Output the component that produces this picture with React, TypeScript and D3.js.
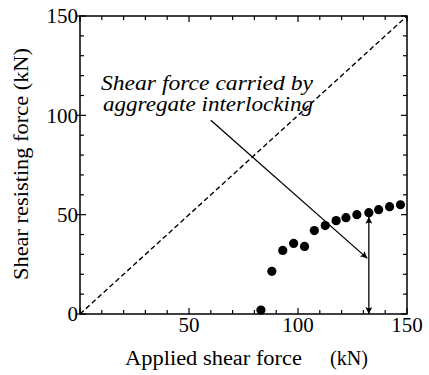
import React from 'react';
import { scaleLinear, range, line } from 'd3';

// applied shear force (kN) and measured shear resisting force (kN)
const appliedShear = [83, 88, 93, 98, 103, 107.5, 112.5, 117.5, 122, 127, 132.5, 137, 142, 147];
const resistingShear = [2, 21.5, 32, 35.5, 34, 42, 44.5, 47, 48.5, 50, 51, 52.5, 54, 55];

const xTickLabels = [50, 100, 150];
const yTickLabels = [0, 50, 100, 150];
const annotationLines = ['Shear force carried by', 'aggregate interlocking'];

const W = 429;
const H = 375;
const serif = 'Liberation Serif, Tinos, DejaVu Serif, serif';

const App = () => {
  const x = scaleLinear().domain([0, 150]).range([80, 407]);
  const y = scaleLinear().domain([0, 150]).range([314, 16]);
  const minor = range(0, 151, 10);
  const major = [0, 50, 100, 150];
  const diag = line<number>()
    .x((d) => x(d))
    .y((d) => y(d));

  // annotation arrow: from text down to the interlocking part
  const arrowFrom = [60, 97.5];
  const arrowTo = [131.8, 28];
  const arrowX = 132.5;
  const arrowTop = 49;

  return (
    <svg
      width={W}
      height={H}
      style={{ position: 'absolute', left: 0, top: 0, background: '#fff', fontFamily: serif }}
    >
      <defs>
        <marker id="head" viewBox="0 0 10 10" refX="10" refY="5" markerWidth="11" markerHeight="7" markerUnits="userSpaceOnUse" orient="auto-start-reverse">
          <path d="M0,0 L10,5 L0,10 L2,5 z" fill="#000" />
        </marker>
      </defs>

      {/* frame */}
      <rect x={x(0)} y={y(150)} width={x(150) - x(0)} height={y(0) - y(150)} fill="none" stroke="#000" strokeWidth={1.5} />

      {/* ticks, inward on all four sides */}
      {minor.map((t) => {
        const len = major.includes(t) ? 6 : 4;
        return (
          <g key={'t' + t} stroke="#000" strokeWidth={1.2}>
            <line x1={x(t)} x2={x(t)} y1={y(0)} y2={y(0) - len} />
            <line x1={x(t)} x2={x(t)} y1={y(150)} y2={y(150) + len} />
            <line x1={x(0)} x2={x(0) + len} y1={y(t)} y2={y(t)} />
            <line x1={x(150)} x2={x(150) - len} y1={y(t)} y2={y(t)} />
          </g>
        );
      })}
      {major.map((t) => (
        <line key={'o' + t} x1={x(0) - 3} x2={x(0)} y1={y(t)} y2={y(t)} stroke="#000" strokeWidth={1.2} />
      ))}

      {/* 1:1 line */}
      <path d={diag([0, 150]) || ''} stroke="#000" strokeWidth={1.4} strokeDasharray="5,3" fill="none" />

      {/* tick labels */}
      {xTickLabels.map((t) => (
        <text key={'xl' + t} x={x(t)} y={332} fontSize={21} textAnchor="middle">
          {t}
        </text>
      ))}
      {yTickLabels.map((t) => (
        <text key={'yl' + t} x={x(0) - 2} y={y(t)} dy="0.35em" fontSize={21} textAnchor="end">
          {t}
        </text>
      ))}

      {/* axis titles */}
      <text x={125} y={365} fontSize={20.5} textLength={177} lengthAdjust="spacingAndGlyphs">
        Applied shear force
      </text>
      <text x={330} y={365} fontSize={20.5} textLength={38} lengthAdjust="spacingAndGlyphs">
        (kN)
      </text>
      <text
        transform="translate(28,164) rotate(-90)"
        fontSize={20}
        textAnchor="middle"
        textLength={232}
        lengthAdjust="spacingAndGlyphs"
      >
        Shear resisting force (kN)
      </text>

      {/* data points */}
      {appliedShear.map((d, i) => (
        <circle key={'p' + i} cx={x(d)} cy={y(resistingShear[i])} r={4.6} fill="#000" />
      ))}

      {/* annotation */}
      {annotationLines.map((s, i) => (
        <text
          key={'a' + i}
          x={101 + 2 * i}
          y={90 + i * 21}
          fontSize={20.5}
          fontStyle="italic"
          textLength={212 - 2 * i}
          lengthAdjust="spacingAndGlyphs"
        >
          {s}
        </text>
      ))}
      <line
        x1={x(arrowFrom[0])}
        y1={y(arrowFrom[1])}
        x2={x(arrowTo[0])}
        y2={y(arrowTo[1])}
        stroke="#000"
        strokeWidth={1.3}
        markerEnd="url(#head)"
      />
      <line
        x1={x(arrowX)}
        y1={y(arrowTop)}
        x2={x(arrowX)}
        y2={y(0)}
        stroke="#000"
        strokeWidth={1.3}
        markerStart="url(#head)"
        markerEnd="url(#head)"
      />
    </svg>
  );
};

export default App;
